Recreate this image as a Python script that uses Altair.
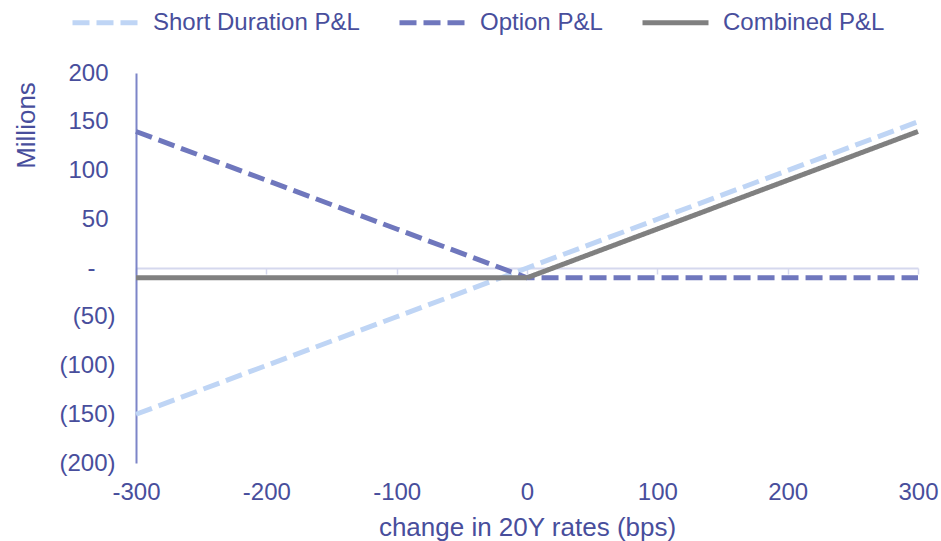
import altair as alt
import pandas as pd

# Change in 20Y rates (bps) and P&L of each leg, in millions
rate_change = [-300, -200, -100, 0, 100, 200, 300]
short_duration_pnl = [-150, -100, -50, 0, 50, 100, 150]
option_pnl = [140, 90, 40, -10, -10, -10, -10]
combined_pnl = [-10, -10, -10, -10, 40, 90, 140]
pnl_ticks = [-200, -150, -100, -50, 0, 50, 100, 150, 200]

series_names = ["Short Duration P&L", "Option P&L", "Combined P&L"]
series_colors = ["#bfd5f5", "#6f77bd", "#808080"]
series_dashes = [[17, 7], [17, 7], [1, 0]]

rows = []
for name, values in zip(series_names, [short_duration_pnl, option_pnl, combined_pnl]):
    for x, v in zip(rate_change, values):
        rows.append({"bps": x, "pnl": v, "series": name})
df = pd.DataFrame(rows)

FONT = "Liberation Sans"
TEXT = "#484e9c"

legend = alt.Legend(
    title=None,
    orient="none",
    direction="horizontal",
    legendX=-66,
    legendY=-86,
    symbolType="stroke",
    symbolSize=4356,
    symbolStrokeWidth=5,
    labelFont=FONT,
    labelFontSize=24,
    labelColor=TEXT,
    labelLimit=0,
    labelOffset=12,
    columnPadding=29,
    padding=0,
)

color = alt.Color(
    "series:N",
    scale=alt.Scale(domain=series_names, range=series_colors),
    legend=legend,
)
dash = alt.StrokeDash(
    "series:N",
    scale=alt.Scale(domain=series_names, range=series_dashes),
    legend=legend,
)

x = alt.X(
    "bps:Q",
    scale=alt.Scale(domain=[-300, 300], nice=False),
    axis=alt.Axis(
        values=rate_change,
        labelExpr="'' + datum.value",
        labelFlush=False,
        title="change in 20Y rates (bps)",
        offset=-195,
        domainColor="#d5d8ee",
        domainWidth=2,
        tickColor="#d5d8ee",
        tickWidth=1.5,
        tickSize=6,
        labelPadding=206,
        labelFont=FONT,
        labelFontSize=24,
        labelColor=TEXT,
        titleFont=FONT,
        titleFontSize=26,
        titleFontWeight="normal",
        titleColor=TEXT,
        titleBaseline="top",
        titleY=246,
        grid=False,
    ),
)

# accounting-style labels: "-" for zero, parentheses for negatives,
# each kind sitting a little further from the axis line
y = alt.Y(
    "pnl:Q",
    scale=alt.Scale(domain=[-200, 200], nice=False),
    axis=alt.Axis(
        values=pnl_ticks,
        labelExpr=(
            "datum.value == 0 ? '-' : "
            "(datum.value < 0 ? '(' + abs(datum.value) + ')' : '' + datum.value)"
        ),
        labelPadding={
            "condition": [
                {"test": "datum.value == 0", "value": 41},
                {"test": "datum.value > 0", "value": 28},
            ],
            "value": 21,
        },
        title="Millions",
        titleX=-110,
        titleY=52,
        titleAngle=270,
        titleAlign="center",
        titleBaseline="middle",
        titleFont=FONT,
        titleFontSize=26,
        titleFontWeight="normal",
        titleColor=TEXT,
        domainColor="#7d85c8",
        domainWidth=2,
        ticks=False,
        tickSize=0,
        labelFont=FONT,
        labelFontSize=24,
        labelColor=TEXT,
        grid=False,
    ),
)

base = alt.Chart(df).mark_line(strokeWidth=5).encode(
    x=x, y=y, color=color, strokeDash=dash, detail="series:N"
)

layers = [base.transform_filter(alt.datum.series == name) for name in series_names]

chart = (
    alt.layer(*layers)
    .properties(
        width=782,
        height=390,
        autosize=alt.AutoSizeParams(type="none"),
        padding={"left": 136, "top": 73, "right": 23, "bottom": 78},
        background="white",
    )
    .configure_view(stroke=None)
)

chart.save("out.html", embed_options={"renderer": "svg", "actions": False})
